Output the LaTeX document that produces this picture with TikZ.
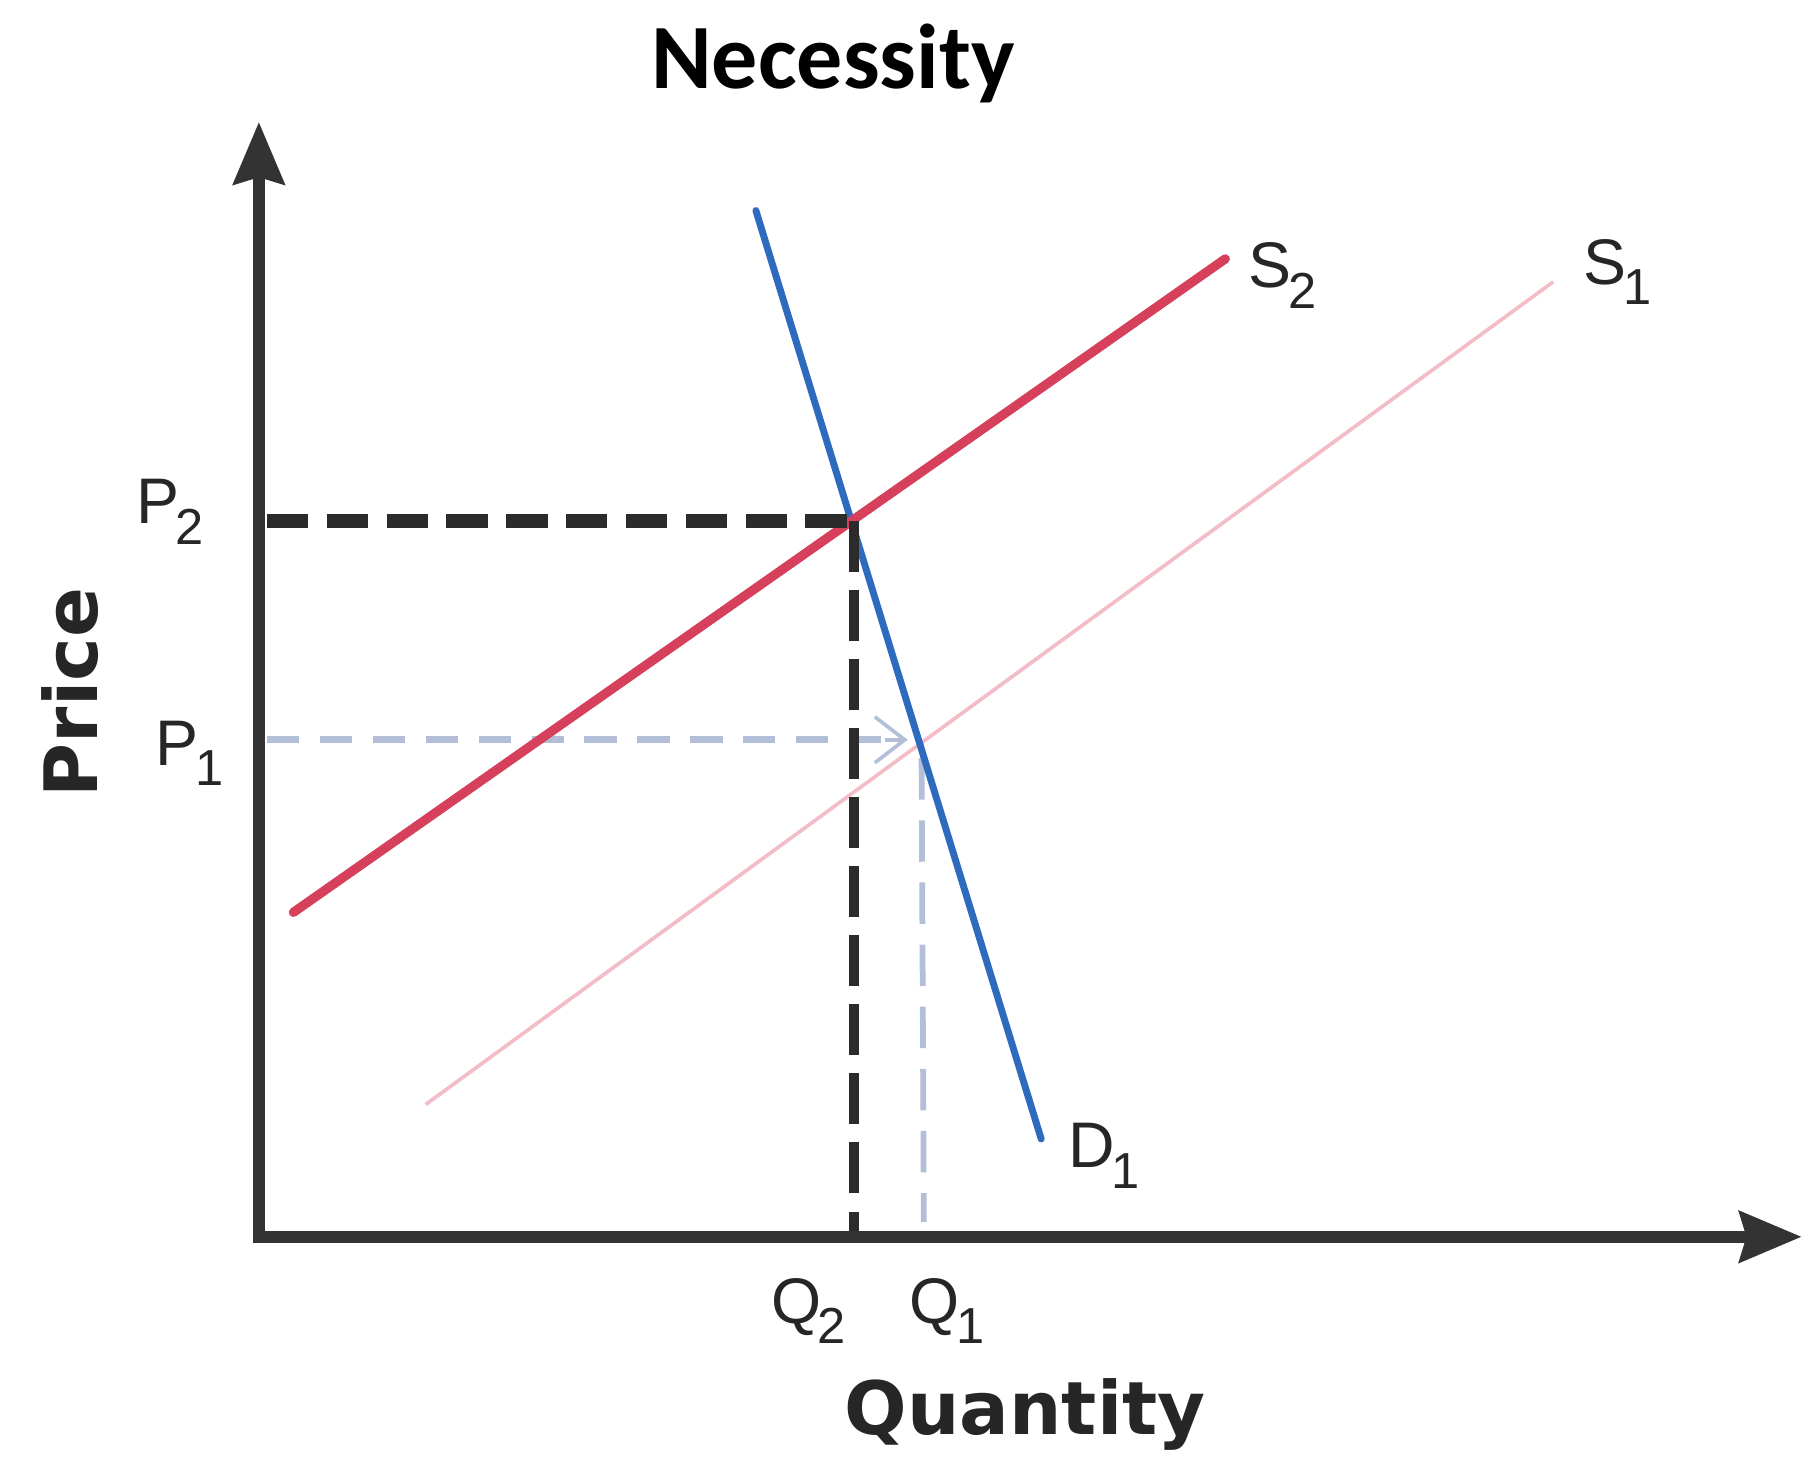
\documentclass[tikz,border=0pt]{standalone}
\usepackage{fontspec}
\setmainfont{Liberation Sans}
\newfontfamily\titlefont{Carlito}
\newfontfamily\axisfont{DejaVu Sans}
\usetikzlibrary{arrows.meta}
\definecolor{axisgray}{HTML}{333333}
\definecolor{supred}{HTML}{D6405A}
\definecolor{suppink}{HTML}{F3BDC7}
\definecolor{demblue}{HTML}{2E6BBF}
\definecolor{lightdash}{HTML}{B3BFD8}
\definecolor{darkdash}{HTML}{2B2B2B}
\newcommand\sublab[2]{#1\kern-1.5pt\raisebox{-9pt}{\fontsize{22pt}{22pt}\selectfont #2}}
\tikzset{
  axisline/.style={line width=5pt, draw=axisgray, -{Stealth[length=27pt,width=22pt,inset=3pt]}},
  curvelabel/.style={inner sep=0pt, anchor=base west, font=\fontsize{28pt}{28pt}\selectfont, text=black!85},
  axistitle/.style={inner sep=0pt, anchor=base, font=\axisfont\bfseries\fontsize{32pt}{32pt}\selectfont, text=black!85},
  blackdashh/.style={draw=darkdash, line width=6pt, dash pattern=on 18pt off 8pt},
  blackdashv/.style={draw=darkdash, line width=4.5pt, dash pattern=on 22pt off 8pt},
  lightdashline/.style={draw=lightdash, line width=3pt, dash pattern=on 14pt off 9pt},
}
\begin{document}
\begin{tikzpicture}[x=0.5pt,y=-0.5pt]
\useasboundingbox (0,0) rectangle (1568,1269);
\fill[white] (0,0) rectangle (1568,1269);

% key points
\coordinate (O) at (225,1075);
\coordinate (Ytop) at (225,106);
\coordinate (Xend) at (1566,1075);
\coordinate (E2) at (742,453);
\coordinate (E1) at (801,643);
\coordinate (P2ax) at (232,453);
\coordinate (P1ax) at (232,643);
\coordinate (Q2ax) at (742,1070);
\coordinate (Q1ax) at (803,1062);
\coordinate (S2a) at (255,793);
\coordinate (S2b) at (1065,225);
\coordinate (S1a) at (370,960);
\coordinate (S1b) at (1350,245);
\coordinate (Da) at (657,183);
\coordinate (Db) at (905,990);

% supply S1 (light)
\draw[draw=suppink, line width=1.6pt] (S1a) -- (S1b);
% light dashed guides at P1, Q1
\draw[lightdashline] (P1ax) -- ([xshift=-8pt]E1);
\draw[draw=lightdash, line width=1.6pt, -{Straight Barb[length=13pt,width=20pt,line width=1.6pt]}] ([xshift=-16pt]E1) -- ([xshift=-6pt]E1);
\draw[lightdashline, line width=2.5pt, dash pattern=on 18pt off 9pt] ([yshift=-8pt]E1) -- (Q1ax);
% demand
\draw[draw=demblue, line width=3pt, line cap=round] (Da) -- (Db);
% supply S2
\draw[draw=supred, line width=4pt, line cap=round] (S2a) -- (S2b);
% black dashed guides at P2, Q2
\draw[blackdashh] (P2ax) -- (E2);
\draw[blackdashv] (E2) -- (Q2ax);
% axes
\draw[axisline] (O) -- (Ytop);
\draw[axisline] ([xshift=-2.5pt]O) -- (Xend);

% labels
\node[curvelabel] (lP2) at (118,455) {\sublab{P}{2}};
\node[curvelabel] (lP1) at (135,665) {\sublab{P}{1}};
\node[curvelabel] (lQ2) at (670,1150) {\sublab{Q}{2}};
\node[curvelabel] (lQ1) at (790,1150) {\sublab{Q}{1}};
\node[curvelabel] (lS2) at (1085,250) {\sublab{S}{2}};
\node[curvelabel] (lS1) at (1376,247) {\sublab{S}{1}};
\node[curvelabel] (lD1) at (928,1015) {\sublab{D}{1}};

\node[inner sep=0pt, anchor=base, font=\titlefont\bfseries\fontsize{40pt}{40pt}\selectfont] (title) at (724,77) {Necessity};
\node[axistitle] (qty) at (891,1247) {Quantity};
\node[axistitle, rotate=90] (price) at (85,602) {Price};
\end{tikzpicture}
\end{document}
